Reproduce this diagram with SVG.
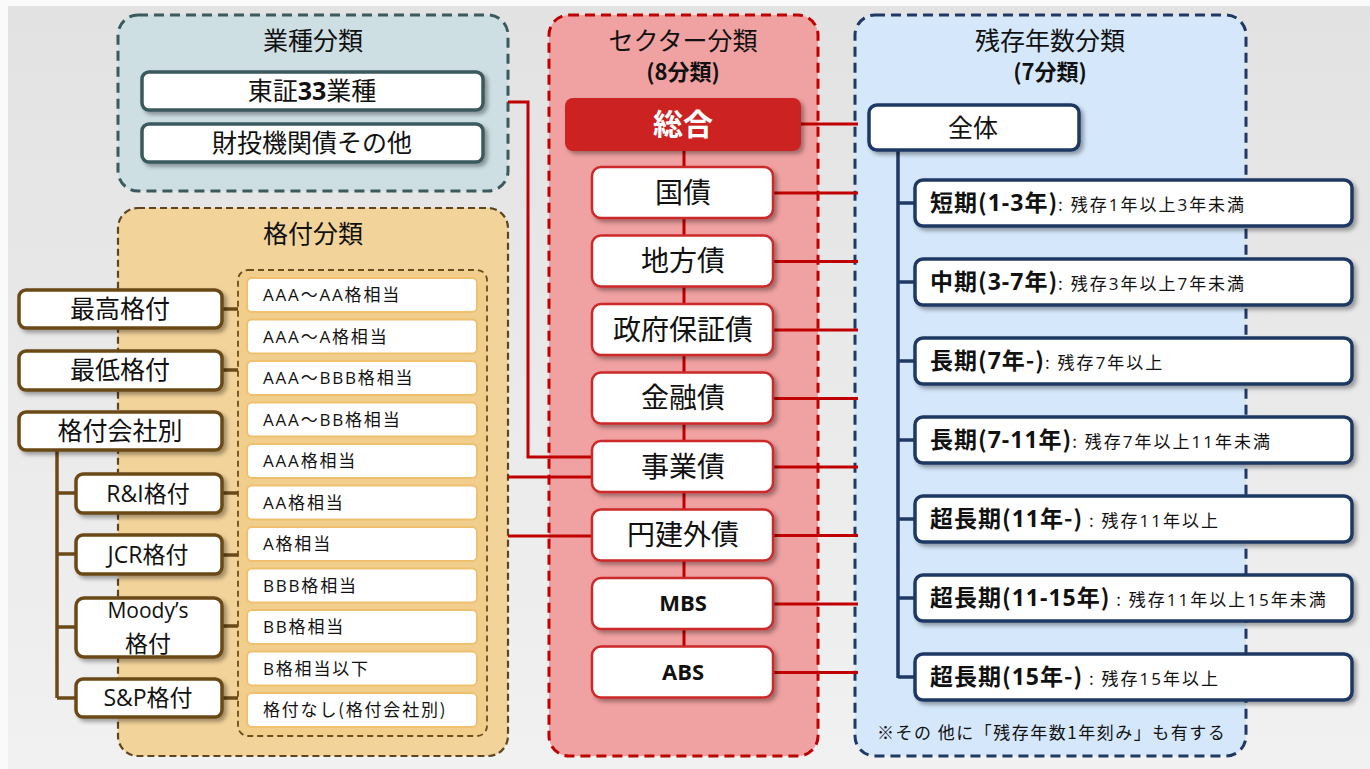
<svg xmlns="http://www.w3.org/2000/svg" width="1370" height="769" viewBox="0 0 1370 769">
<defs>
<linearGradient id="bg" x1="0" y1="0" x2="0" y2="1">
<stop offset="0" stop-color="#e2e2e2"/>
<stop offset="1" stop-color="#f1f1f1"/>
</linearGradient>
<filter id="sh" x="-10%" y="-20%" width="125%" height="160%">
<feDropShadow dx="3" dy="3" stdDeviation="2" flood-color="#000" flood-opacity="0.35"/>
</filter>
<style>
text{font-family:"Noto Sans CJK JP","Noto Sans",sans-serif;fill:#111;font-weight:normal;}
.lat{font-family:"Open Sans","Noto Sans CJK JP",sans-serif;}
.ttl{font-size:25px;text-anchor:middle;}
.sub{font-size:22px;font-weight:bold;text-anchor:middle;}
.grpI{fill:#cedfe3;stroke:#3a5a5e;stroke-width:3;stroke-dasharray:10 6;}
.grpR{fill:#f2d39a;stroke:#5e4520;stroke-width:2.2;stroke-dasharray:7 4;}
.grpS{fill:#f0a1a1;stroke:#c00000;stroke-width:3;stroke-dasharray:10 6;}
.grpM{fill:#d5e8fb;stroke:#1f3864;stroke-width:3;stroke-dasharray:10 6;}
.inner{fill:#f1ce8c;stroke:#6b4e1e;stroke-width:1.8;stroke-dasharray:6 4;}
.bI{fill:#fff;stroke:#3a5a5e;stroke-width:3.5;filter:url(#sh);}
.bR{fill:#fff;stroke:#6b4a17;stroke-width:3.5;filter:url(#sh);}
.bRi{fill:#fff;stroke:#efc06e;stroke-width:2;}
.bS{fill:#fff;stroke:#cc2929;stroke-width:2.5;filter:url(#sh);}
.bM{fill:#fff;stroke:#1f3864;stroke-width:3.5;filter:url(#sh);}
.lbl{font-size:25px;text-anchor:middle;}
.lblR{font-size:23px;text-anchor:middle;}
.lblS{font-size:28px;text-anchor:middle;}
.itm{font-size:17px;letter-spacing:1.8px;}
.redL{stroke:#c00000;stroke-width:3;fill:none;}
.brL{stroke:#6b4a17;stroke-width:3.5;fill:none;}
.blL{stroke:#1f3864;stroke-width:3.5;fill:none;}
.mb{font-size:23px;font-weight:bold;letter-spacing:1px;}
.ms{font-size:17px;letter-spacing:2px;}
</style>
</defs>
<rect x="0" y="0" width="1370" height="769" fill="#fafafa"/>
<rect x="8" y="6" width="1362" height="763" fill="url(#bg)"/>

<!-- containers -->
<g id="grp-industry">
<rect class="grpI" x="118" y="15" width="390" height="176" rx="20"/>
<text class="ttl" x="313" y="50">業種分類</text>
</g>
<g id="grp-rating">
<rect class="grpR" x="118" y="208" width="390" height="548" rx="20"/>
<text class="ttl" x="313" y="243">格付分類</text>
<rect class="inner" x="238" y="270" width="249" height="466" rx="10"/>
</g>
<g id="grp-sector">
<rect class="grpS" x="549" y="15" width="269" height="741" rx="20"/>
<text class="ttl" x="683" y="50">セクター分類</text>
<text class="sub" x="683" y="80">(8分類)</text>
</g>
<g id="grp-maturity">
<rect class="grpM" x="855" y="15" width="391" height="741" rx="20"/>
<text class="ttl" x="1050" y="50">残存年数分類</text>
<text class="sub" x="1050" y="80">(7分類)</text>
<text x="877" y="739" style="font-size:17px;letter-spacing:1.5px">※その 他に「残存年数1年刻み」も有する</text>
</g>

<!-- connectors -->
<g id="connectors">
<path class="redL" d="M508 102 H528 V457 H593"/>
<path class="redL" d="M508 477 H593"/>
<path class="redL" d="M508 536 H593"/>
<path class="redL" d="M684 150 V646"/>
<path class="redL" d="M801 124 H858"/>
<path class="redL" d="M773 193 H858 M773 261.5 H858 M773 330 H858 M773 398.5 H858 M773 467 H858 M773 535.5 H858 M773 604 H858 M773 672.5 H858"/>
<path class="blL" d="M898 150 V678"/>
<path class="blL" d="M898 203 H915 M898 282 H915 M898 361 H915 M898 440 H915 M898 519 H915 M898 598 H915 M898 677 H915"/>
<path class="brL" d="M57 450 V698"/>
<path class="brL" d="M57 493 H75 M57 554 H75 M57 627 H75 M57 698 H75"/>
<path class="brL" d="M222 309 H238 M222 370 H238 M222 493 H238 M222 555 H238 M222 626 H238 M222 698 H238"/>
</g>

<!-- industry nodes -->
<g id="n-tosho33"><rect class="bI" x="142" y="72" width="341" height="38" rx="7"/><text class="lbl" x="312" y="100">東証<tspan class="lat" font-weight="bold">33</tspan>業種</text></g>
<g id="n-zaito"><rect class="bI" x="142" y="124" width="341" height="38" rx="7"/><text class="lbl" x="312" y="152">財投機関債その他</text></g>

<!-- rating left nodes -->
<g id="n-saiko"><rect class="bR" x="19" y="290" width="203" height="38" rx="7"/><text class="lbl" x="120" y="318">最高格付</text></g>
<g id="n-saitei"><rect class="bR" x="19" y="351" width="203" height="39" rx="7"/><text class="lbl" x="120" y="379">最低格付</text></g>
<g id="n-kaisha"><rect class="bR" x="19" y="412" width="203" height="38" rx="7"/><text class="lbl" x="120" y="440">格付会社別</text></g>
<g id="n-ri"><rect class="bR" x="76" y="474" width="146" height="39" rx="7"/><text class="lblR" x="148" y="502"><tspan class="lat">R&amp;I</tspan>格付</text></g>
<g id="n-jcr"><rect class="bR" x="76" y="535" width="146" height="39" rx="7"/><text class="lblR" x="148" y="563"><tspan class="lat">JCR</tspan>格付</text></g>
<g id="n-moodys"><rect class="bR" x="76" y="598" width="146" height="59" rx="8"/><text class="lblR lat" x="148" y="618" style="font-size:21px">Moody’s</text><text class="lblR" x="148" y="652">格付</text></g>
<g id="n-sp"><rect class="bR" x="76" y="679" width="146" height="38" rx="7"/><text class="lblR" x="148" y="706"><tspan class="lat">S&amp;P</tspan>格付</text></g>

<!-- rating items -->
<g id="n-r1"><rect class="bRi" x="247" y="278" width="230" height="34" rx="5"/><text class="itm" x="263" y="301"><tspan class="lat">AAA</tspan>～<tspan class="lat">AA</tspan>格相当</text></g>
<g id="n-r2"><rect class="bRi" x="247" y="319.5" width="230" height="34" rx="5"/><text class="itm" x="263" y="342.5"><tspan class="lat">AAA</tspan>～<tspan class="lat">A</tspan>格相当</text></g>
<g id="n-r3"><rect class="bRi" x="247" y="361" width="230" height="34" rx="5"/><text class="itm" x="263" y="384"><tspan class="lat">AAA</tspan>～<tspan class="lat">BBB</tspan>格相当</text></g>
<g id="n-r4"><rect class="bRi" x="247" y="402.5" width="230" height="34" rx="5"/><text class="itm" x="263" y="425.5"><tspan class="lat">AAA</tspan>～<tspan class="lat">BB</tspan>格相当</text></g>
<g id="n-r5"><rect class="bRi" x="247" y="444" width="230" height="34" rx="5"/><text class="itm" x="263" y="467"><tspan class="lat">AAA</tspan>格相当</text></g>
<g id="n-r6"><rect class="bRi" x="247" y="485.5" width="230" height="34" rx="5"/><text class="itm" x="263" y="508.5"><tspan class="lat">AA</tspan>格相当</text></g>
<g id="n-r7"><rect class="bRi" x="247" y="527" width="230" height="34" rx="5"/><text class="itm" x="263" y="550"><tspan class="lat">A</tspan>格相当</text></g>
<g id="n-r8"><rect class="bRi" x="247" y="568.5" width="230" height="34" rx="5"/><text class="itm" x="263" y="591.5"><tspan class="lat">BBB</tspan>格相当</text></g>
<g id="n-r9"><rect class="bRi" x="247" y="610" width="230" height="34" rx="5"/><text class="itm" x="263" y="633"><tspan class="lat">BB</tspan>格相当</text></g>
<g id="n-r10"><rect class="bRi" x="247" y="651.5" width="230" height="34" rx="5"/><text class="itm" x="263" y="674.5"><tspan class="lat">B</tspan>格相当以下</text></g>
<g id="n-r11"><rect class="bRi" x="247" y="693" width="230" height="34" rx="5"/><text class="itm" x="263" y="716">格付なし(格付会社別)</text></g>

<!-- sector nodes -->
<g id="n-sogo"><rect x="565" y="98" width="236" height="53" rx="8" fill="#cc2222" filter="url(#sh)"/><text x="683" y="135" style="font-size:30px;font-weight:bold;fill:#fff;text-anchor:middle">総合</text></g>
<g id="n-kokusai"><rect class="bS" x="592" y="167" width="181" height="51" rx="9"/><text class="lblS" x="683" y="202.5">国債</text></g>
<g id="n-chihou"><rect class="bS" x="592" y="235.5" width="181" height="51" rx="9"/><text class="lblS" x="683" y="271">地方債</text></g>
<g id="n-seifu"><rect class="bS" x="592" y="304" width="181" height="51" rx="9"/><text class="lblS" x="683" y="339.5">政府保証債</text></g>
<g id="n-kinyu"><rect class="bS" x="592" y="372.5" width="181" height="51" rx="9"/><text class="lblS" x="683" y="408">金融債</text></g>
<g id="n-jigyo"><rect class="bS" x="592" y="441" width="181" height="51" rx="9"/><text class="lblS" x="683" y="476.5">事業債</text></g>
<g id="n-endate"><rect class="bS" x="592" y="509.5" width="181" height="51" rx="9"/><text class="lblS" x="683" y="545">円建外債</text></g>
<g id="n-mbs"><rect class="bS" x="592" y="578" width="181" height="51" rx="9"/><text class="lblS lat" x="683" y="611" style="font-size:22px;font-weight:bold">MBS</text></g>
<g id="n-abs"><rect class="bS" x="592" y="646.5" width="181" height="51" rx="9"/><text class="lblS lat" x="683" y="679.5" style="font-size:22px;font-weight:bold">ABS</text></g>

<!-- maturity nodes -->
<g id="n-zentai"><rect class="bM" x="869" y="105" width="210" height="45" rx="8"/><text class="lbl" x="973" y="137">全体</text></g>
<g id="n-m1"><rect class="bM" x="915" y="180" width="437" height="46" rx="8"/><text x="930" y="211"><tspan class="mb">短期(<tspan class="lat">1-3</tspan>年)</tspan><tspan class="ms">: 残存<tspan class="lat">1</tspan>年以上<tspan class="lat">3</tspan>年未満</tspan></text></g>
<g id="n-m2"><rect class="bM" x="915" y="259" width="437" height="46" rx="8"/><text x="930" y="290"><tspan class="mb">中期(<tspan class="lat">3-7</tspan>年)</tspan><tspan class="ms">: 残存<tspan class="lat">3</tspan>年以上<tspan class="lat">7</tspan>年未満</tspan></text></g>
<g id="n-m3"><rect class="bM" x="915" y="338" width="437" height="46" rx="8"/><text x="930" y="369"><tspan class="mb">長期(<tspan class="lat">7</tspan>年-)</tspan><tspan class="ms">: 残存<tspan class="lat">7</tspan>年以上</tspan></text></g>
<g id="n-m4"><rect class="bM" x="915" y="417" width="437" height="46" rx="8"/><text x="930" y="448"><tspan class="mb">長期(<tspan class="lat">7-11</tspan>年)</tspan><tspan class="ms">: 残存<tspan class="lat">7</tspan>年以上<tspan class="lat">11</tspan>年未満</tspan></text></g>
<g id="n-m5"><rect class="bM" x="915" y="496" width="437" height="46" rx="8"/><text x="930" y="527"><tspan class="mb">超長期(<tspan class="lat">11</tspan>年-)</tspan><tspan class="ms"> : 残存<tspan class="lat">11</tspan>年以上</tspan></text></g>
<g id="n-m6"><rect class="bM" x="915" y="575" width="437" height="46" rx="8"/><text x="930" y="606"><tspan class="mb">超長期(<tspan class="lat">11-15</tspan>年)</tspan><tspan class="ms"> : 残存<tspan class="lat">11</tspan>年以上<tspan class="lat">15</tspan>年未満</tspan></text></g>
<g id="n-m7"><rect class="bM" x="915" y="654" width="437" height="46" rx="8"/><text x="930" y="685"><tspan class="mb">超長期(<tspan class="lat">15</tspan>年-)</tspan><tspan class="ms"> : 残存<tspan class="lat">15</tspan>年以上</tspan></text></g>
</svg>
